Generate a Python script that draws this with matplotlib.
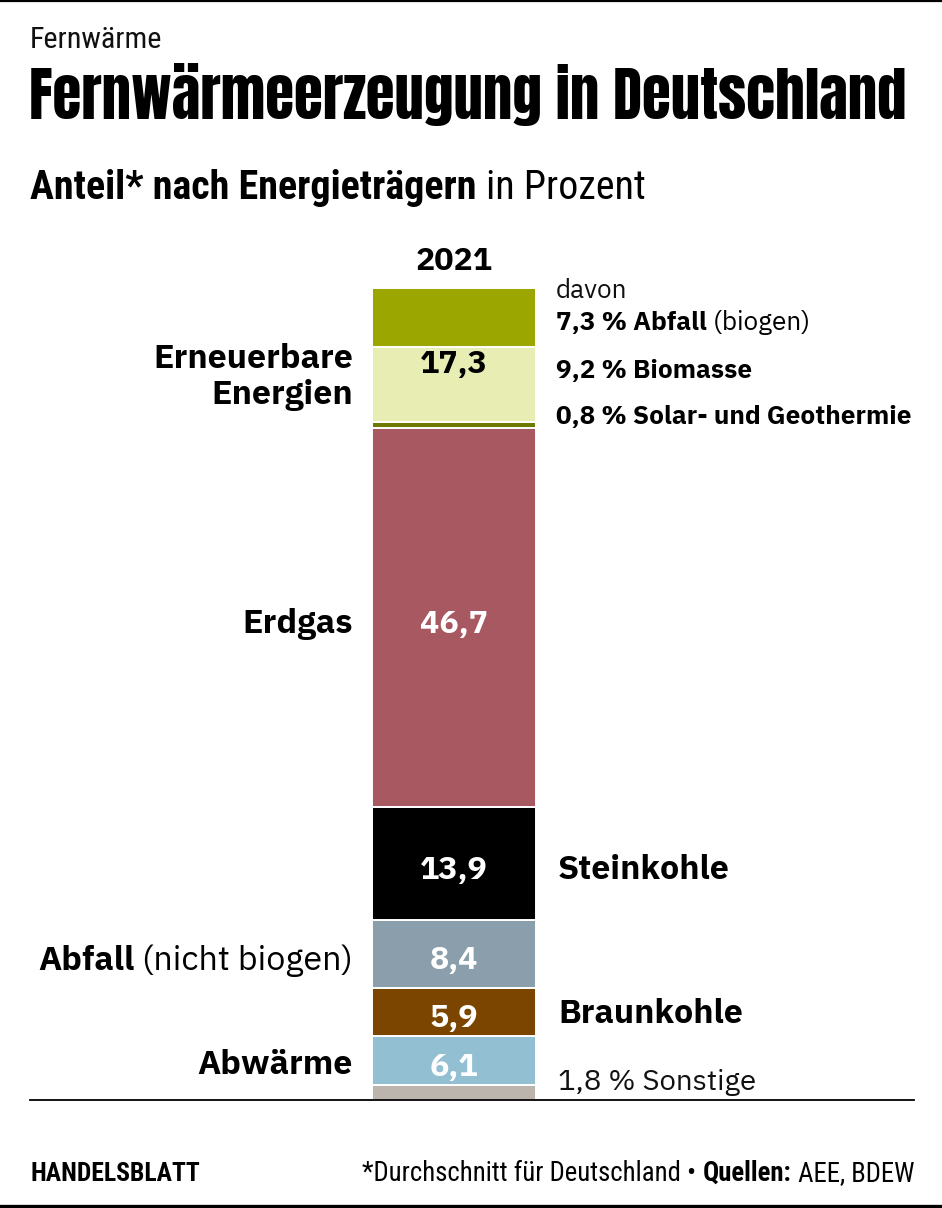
import matplotlib
matplotlib.use('Agg')
import matplotlib.pyplot as plt
import matplotlib.transforms as mtransforms
from matplotlib import font_manager as fm

W, H = 942, 1208
DPI = 100

# ---------------- data ----------------
categories = ['Sonstige', 'Abwärme', 'Braunkohle', 'Abfall (nicht biogen)',
              'Steinkohle', 'Erdgas', 'Solar- und Geothermie', 'Biomasse',
              'Abfall (biogen)']
values = [1.8, 6.1, 5.9, 8.4, 13.9, 46.7, 0.8, 9.2, 7.3]
colors = ['#bcb5ae', '#93bfd3', '#7b4500', '#8a9fab', '#000000',
          '#a75860', '#6f7a00', '#e8edb4', '#9ba600']
value_labels = ['', '6,1', '5,9', '8,4', '13,9', '46,7', '', '', '']
renewable_total = '17,3'
year = '2021'

# ---------------- fonts ----------------
names = {f.name for f in fm.fontManager.ttflist}


def pick(*cands):
    for c in cands:
        if c in names:
            return c
    return 'DejaVu Sans'


BODY = pick('IBM Plex Sans Arabic', 'Roboto')
COND = pick('Roboto Condensed', 'Archivo Narrow', 'IBM Plex Sans Condensed')
TITLE = pick('Anton', 'Oswald', 'Roboto Condensed')
FB = [BODY, 'DejaVu Sans']
FC = [COND, 'DejaVu Sans']
FT = [TITLE, 'DejaVu Sans']
plt.rcParams['font.family'] = FB

fig = plt.figure(figsize=(W / DPI, H / DPI), dpi=DPI)
fig.patch.set_facecolor('white')
renderer = fig.canvas.get_renderer()


def fx(x):
    return x / W


def fy(y):
    return 1 - y / H


def width(o):
    return o.get_window_extent(renderer).width


def size_for(text, target, weight='bold', family=FB):
    o = fig.text(0, 0, text, fontsize=20, fontweight=weight, family=family)
    w = width(o)
    o.remove()
    return 20 * target / w


def rich(x, y, parts, ha='left', size=16, color='black', family=FB,
         target=None):
    objs = []
    for t, w in parts:
        o = fig.text(0, fy(y), t, fontsize=size, fontweight=w, color=color,
                     va='baseline', ha='left', family=family)
        objs.append(o)
    total = sum(width(o) for o in objs)
    if target:
        s = size * target / total
        for o in objs:
            o.set_fontsize(s)
    widths = [width(o) for o in objs]
    total = sum(widths)
    start = x if ha == 'left' else (x - total if ha == 'right' else x - total / 2)
    cur = start
    for o, wd in zip(objs, widths):
        o.set_x(fx(cur))
        cur += wd
    return objs


def ftext(x, y, s, ha='left', size=16, weight='normal', color='black',
          family=FB, target=None, **kw):
    o = fig.text(fx(x), fy(y), s, ha=ha, va='baseline', fontsize=size,
                 fontweight=weight, color=color, family=family, **kw)
    if target:
        o.set_fontsize(size * target / width(o))
    return o


# ---------------- frame lines ----------------
fig.add_artist(plt.Line2D([0, 1], [fy(1), fy(1)], color='black', lw=1.6,
                          transform=fig.transFigure))
fig.add_artist(plt.Line2D([0, 1], [fy(1205.5), fy(1205.5)], color='black',
                          lw=2.4, transform=fig.transFigure))

# ---------------- header ----------------
ftext(30, 48, 'Fernwärme', size=15, family=FC, color='#111111', target=133)
ftext(29, 119, 'Fernwärmeerzeugung in Deutschland', size=46, family=FT,
      target=876)
rich(30, 199, [('Anteil* nach Energieträgern', 'bold'), (' in Prozent', 'normal')],
     size=20, family=FC, target=613)

# ---------------- font sizes for labels ----------------
LS = size_for('Steinkohle', 172)
SS = size_for('0,8 % Solar- und Geothermie', 356)
VS = size_for('46,7', 68)

# ---------------- bar axes ----------------
y_top_px, y_base_px = 288, 1100
ax = fig.add_axes([0, fy(y_base_px), 1, (y_base_px - y_top_px) / H])
total = sum(values)
ax.set_xlim(0, W)
ax.set_ylim(0, total)
ax.axis('off')

bottoms = []
b = 0
for v in values:
    bottoms.append(b)
    b += v
ax.bar([454] * len(values), values, bottom=bottoms, width=164, color=colors,
       edgecolor='white', linewidth=1.4)

# value labels, nudged a few pixels down like the reference
down = mtransforms.ScaledTranslation(0, -3.5 / DPI, fig.dpi_scale_trans)
for lab, v, bt in zip(value_labels, values, bottoms):
    if lab:
        ax.text(454, bt + v / 2, lab, ha='center', va='center_baseline',
                fontsize=VS, fontweight='bold', color='white',
                transform=ax.transData + down)

# renewable group label (centred on the three renewable segments)
ren_bottom = bottoms[6]
ax.text(454, (ren_bottom + total) / 2, renewable_total, ha='center',
        va='center_baseline', fontsize=VS, fontweight='bold', color='black',
        transform=ax.transData + down)

# year
ftext(454, 270, year, ha='center', size=VS, weight='bold', target=77)

# baseline
fig.add_artist(plt.Line2D([fx(30), fx(914)], [fy(1100), fy(1100)],
                          color='black', lw=1.3, transform=fig.transFigure))

# ---------------- side labels ----------------
ftext(353, 368, 'Erneuerbare', ha='right', size=LS, weight='bold')
ftext(353, 404, 'Energien', ha='right', size=LS, weight='bold')
ftext(353, 633, 'Erdgas', ha='right', size=LS, weight='bold')
rich(353, 970, [('Abfall', 'bold'), (' (nicht biogen)', 'normal')], ha='right',
     size=LS)
ftext(353, 1074, 'Abwärme', ha='right', size=LS, weight='bold')

ftext(558, 879, 'Steinkohle', size=LS, weight='bold')
ftext(558, 1023, 'Braunkohle', size=LS, weight='bold')
ftext(558, 1090, '1,8 % Sonstige', size=LS, color='#111111', target=198)

ftext(556, 298, 'davon', size=SS, color='#111111')
rich(556, 330, [('7,3 % Abfall', 'bold'), (' (biogen)', 'normal')], size=SS)
ftext(556, 378, '9,2 % Biomasse', size=SS, weight='bold')
ftext(556, 424, '0,8 % Solar- und Geothermie', size=SS, weight='bold')

# ---------------- footer ----------------
ftext(30, 1181, 'HANDELSBLATT', size=15, weight='bold', family=FC, target=170)
rich(914, 1181, [('*Durchschnitt für Deutschland • ', 'normal'),
                 ('Quellen:', 'bold'), (' AEE, BDEW', 'normal')],
     ha='right', size=15, family=FC, target=552)

fig.savefig('out.png', dpi=DPI, facecolor='white')
